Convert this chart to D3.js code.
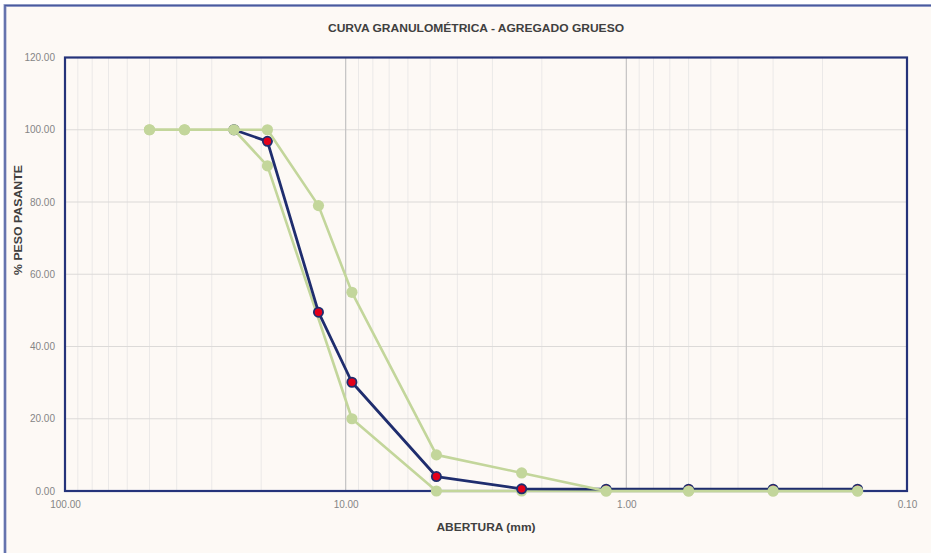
<!DOCTYPE html>
<html>
<head>
<meta charset="utf-8">
<script src="https://cdn.jsdelivr.net/npm/d3@7"></script>
<style>
  html, body { margin: 0; padding: 0; background: #ffffff; }
  svg { display: block; }
  text { font-family: "Liberation Sans", Arial, sans-serif; }
</style>
</head>
<body>
<svg id="chart" width="931" height="553"></svg>
<script>
// ---- data ----
const sieves = [50, 37.5, 25, 19, 12.5, 9.5, 4.75, 2.36, 1.18, 0.6, 0.3, 0.15];
const muestra = [null, null, 100, 96.8, 49.5, 30.1, 4.0, 0.6, 0.5, 0.5, 0.5, 0.5];
const limiteSuperior = [100, 100, 100, 100, 79, 55, 10, 5, 0, 0, 0, 0];
const limiteInferior = [100, 100, 100, 90, null, 20, 0, 0, 0, 0, 0, 0];
const yTicks = [0, 20, 40, 60, 80, 100, 120];
const xTicks = [100, 10, 1, 0.1];
const titleText = "CURVA GRANULOMÉTRICA - AGREGADO GRUESO";
const xTitle = "ABERTURA (mm)";
const yTitle = "% PESO PASANTE";

// ---- layout ----
const W = 931, H = 553;
const plot = { left: 65, right: 907, top: 57.5, bottom: 491 };
const svg = d3.select("#chart");

// background + outer frame
svg.append("rect").attr("x", 0).attr("y", 0).attr("width", W).attr("height", H).attr("fill", "#ffffff");
svg.append("rect").attr("x", 5).attr("y", 5.5).attr("width", W + 20).attr("height", H + 20)
  .attr("fill", "#fdf9f5").attr("stroke", "#9aa4cc").attr("stroke-width", 3);
svg.append("rect").attr("x", 5).attr("y", 5.5).attr("width", W + 20).attr("height", H + 20)
  .attr("fill", "none").attr("stroke", "#4a5a9e").attr("stroke-width", 1.3);

const x = d3.scaleLog().domain([100, 0.1]).range([plot.left, plot.right]);
const y = d3.scaleLinear().domain([0, 120]).range([plot.bottom, plot.top]);

// minor vertical grid
const minorVals = [];
[10, 1, 0.1].forEach(dec => { for (let k = 2; k <= 9; k++) minorVals.push(dec * k); });
svg.append("g").selectAll("line").data(minorVals).join("line")
  .attr("x1", d => x(d)).attr("x2", d => x(d))
  .attr("y1", plot.top).attr("y2", plot.bottom)
  .attr("stroke", "#ebe9e8").attr("stroke-width", 1);
// horizontal grid
svg.append("g").selectAll("line").data(yTicks.filter(v => v > 0 && v < 120)).join("line")
  .attr("x1", plot.left).attr("x2", plot.right)
  .attr("y1", d => y(d)).attr("y2", d => y(d))
  .attr("stroke", "#dcdad8").attr("stroke-width", 1.2);
// major vertical grid
svg.append("g").selectAll("line").data([10, 1]).join("line")
  .attr("x1", d => x(d)).attr("x2", d => x(d))
  .attr("y1", plot.top).attr("y2", plot.bottom)
  .attr("stroke", "#c4c2c2").attr("stroke-width", 1.2);

// plot border
svg.append("rect").attr("x", plot.left).attr("y", plot.top)
  .attr("width", plot.right - plot.left).attr("height", plot.bottom - plot.top)
  .attr("fill", "none").attr("stroke", "#25337a").attr("stroke-width", 2.2);

// axes (labels only)
const yAxis = d3.axisLeft(y).tickValues(yTicks).tickFormat(d3.format(".2f")).tickSize(0).tickPadding(10);
const gy = svg.append("g").attr("transform", `translate(${plot.left},0)`).call(yAxis);
gy.select(".domain").remove();
gy.selectAll("text").attr("fill", "#858585").style("font-size", "10px")
  .style("font-family", "'Liberation Sans', Arial, sans-serif");

const xAxis = d3.axisBottom(x).tickValues(xTicks).tickFormat(d3.format(".2f")).tickSize(0).tickPadding(10);
const gx = svg.append("g").attr("transform", `translate(0,${plot.bottom})`).call(xAxis);
gx.select(".domain").remove();
gx.selectAll("text").attr("fill", "#858585").style("font-size", "10px")
  .style("font-family", "'Liberation Sans', Arial, sans-serif");

// series
function seriesData(vals) {
  return sieves.map((s, i) => ({ s, v: vals[i] })).filter(d => d.v !== null);
}
const line = d3.line().x(d => x(d.s)).y(d => y(d.v));
const green = "#c3d69b";
const navy = "#1f2d6e";

function drawGreen(vals) {
  svg.append("path").datum(seriesData(vals)).attr("d", line)
    .attr("fill", "none").attr("stroke", green).attr("stroke-width", 2.6).attr("stroke-linejoin", "round");
  svg.append("g").selectAll("circle").data(seriesData(vals)).join("circle")
    .attr("cx", d => x(d.s)).attr("cy", d => y(d.v)).attr("r", 5.6)
    .attr("fill", green).attr("stroke", "none");
}

// order: lower limit, sample, upper limit
drawGreen(limiteInferior);
svg.append("path").datum(seriesData(muestra)).attr("d", line)
  .attr("fill", "none").attr("stroke", navy).attr("stroke-width", 2.8).attr("stroke-linejoin", "round");
svg.append("g").selectAll("circle").data(seriesData(muestra)).join("circle")
  .attr("cx", d => x(d.s)).attr("cy", d => y(d.v)).attr("r", 4.6)
  .attr("fill", "#e3001b").attr("stroke", navy).attr("stroke-width", 1.8);
drawGreen(limiteSuperior);

// titles
svg.append("text").attr("x", 476).attr("y", 32).attr("text-anchor", "middle")
  .attr("fill", "#404040").style("font-size", "11px").style("font-weight", "bold")
  .attr("textLength", 296).attr("lengthAdjust", "spacingAndGlyphs")
  .text(titleText);
svg.append("text").attr("x", 486).attr("y", 531).attr("text-anchor", "middle")
  .attr("fill", "#404040").style("font-size", "11px").style("font-weight", "bold")
  .attr("textLength", 99).attr("lengthAdjust", "spacingAndGlyphs")
  .text(xTitle);
svg.append("text").attr("transform", "translate(22,220) rotate(-90)").attr("text-anchor", "middle")
  .attr("fill", "#404040").style("font-size", "11px").style("font-weight", "bold")
  .attr("textLength", 110).attr("lengthAdjust", "spacingAndGlyphs")
  .text(yTitle);
</script>
</body>
</html>
